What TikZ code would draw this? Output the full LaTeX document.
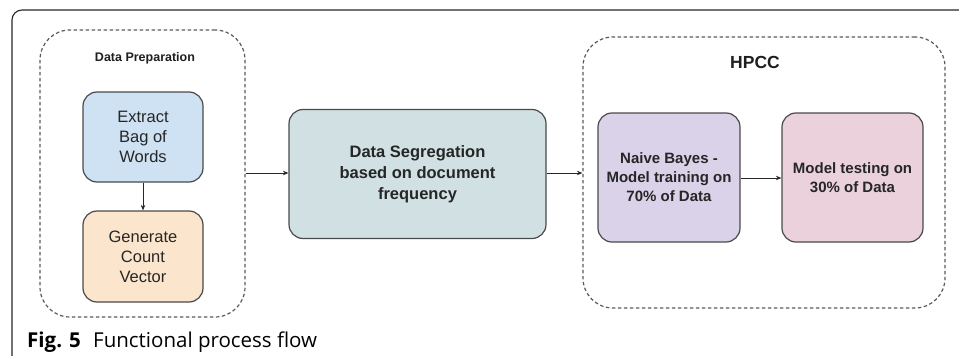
\documentclass[tikz,border=0pt]{standalone}
\usepackage{fontspec}
\setmainfont{Liberation Sans}
\newfontfamily\captionfont{Open Sans}
\usepackage{tikz}
\usepackage{xcolor}
\usetikzlibrary{arrows.meta}
\definecolor{box-line}{HTML}{4A4A4A}
\definecolor{dash-line}{HTML}{5A5A5A}
\definecolor{fill-blue}{HTML}{CFE2F3}
\definecolor{fill-orange}{HTML}{FCE5CD}
\definecolor{fill-teal}{HTML}{D0E0E3}
\definecolor{fill-purple}{HTML}{D9D2E9}
\definecolor{fill-pink}{HTML}{EAD1DC}
\tikzset{
    group-box/.style = {draw=dash-line, dash pattern=on 3.5pt off 2.5pt, line width=1.2pt, rectangle, rounded corners=30pt, inner sep=0pt},
    group-title/.style = {font=\bfseries, text=black!88},
    process-box/.style = {draw=box-line, line width=1.2pt, rectangle, rounded corners=14pt, align=center, inner sep=2pt, text=black!85, font=\fontsize{16.5}{20}\selectfont},
    flow-arrow/.style = {-{Stealth[length=5.5pt,width=4.5pt]}, line width=1pt, draw=black!85},
}

\begin{document}
\begin{tikzpicture}[x=1pt,y=-1pt]
\useasboundingbox (0,0) rectangle (959,356);
% outer frame
\draw[line width=1.1pt, black!85, rounded corners=10pt] (12,357) |- (960,10);
% data preparation
\node [group-box, minimum width=205pt, minimum height=287pt] (prep) at (142.5,173.5) {};
\node [group-title, font=\bfseries\fontsize{12.5}{15}\selectfont] (prep-title) at (145,58) {Data Preparation};
\node [process-box, fill=fill-blue, minimum width=120pt, minimum height=90pt] (extract) at (143,137) {Extract\\Bag of\\Words};
\node [process-box, fill=fill-orange, minimum width=120pt, minimum height=91pt] (generate) at (143,256.5) {Generate\\Count\\Vector};
\draw [flow-arrow] (extract) -- (generate);
% segregation
\node [process-box, fill=fill-teal, font=\bfseries\fontsize{16.5}{21}\selectfont, minimum width=257pt, minimum height=129pt] (segregation) at (417.5,174) {Data Segregation\\based on document\\frequency};
\draw [flow-arrow] (prep.east |- 0,173) -- (segregation.west |- 0,173);
% hpcc
\node [group-box, minimum width=362pt, minimum height=271pt] (hpcc) at (764,172.5) {};
\node [group-title, font=\bfseries\fontsize{17.5}{20}\selectfont] (hpcc-title) at (755,62) {HPCC};
\node [process-box, fill=fill-purple, font=\bfseries\fontsize{15}{19}\selectfont, minimum width=142pt, minimum height=129pt] (training) at (669,177.5) {Naive Bayes -\\Model training on\\70\% of Data};
\node [process-box, fill=fill-pink, font=\bfseries\fontsize{15}{19}\selectfont, minimum width=141pt, minimum height=129pt] (testing) at (852.5,177.5) {Model testing on\\30\% of Data};
\draw [flow-arrow] (segregation.east |- 0,173) -- (hpcc.west |- 0,173);
\draw [flow-arrow] ([yshift=-0.5pt]training.east) -- ([yshift=-0.5pt]testing.west);
% caption
\node [anchor=base west, inner sep=0pt, font=\captionfont\fontsize{20.5}{23}\selectfont] (caption) at (27,347) {\textbf{Fig. 5}\hspace{0.6em}Functional process flow};
\end{tikzpicture}
\end{document}
